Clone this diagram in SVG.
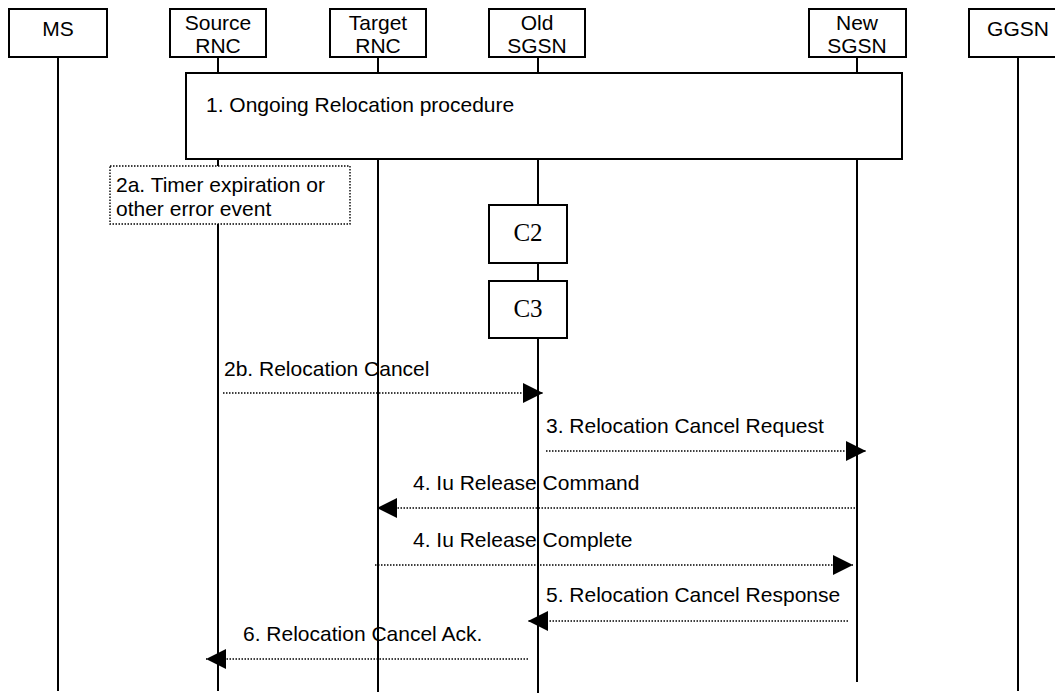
<svg xmlns="http://www.w3.org/2000/svg" width="1055" height="693" viewBox="0 0 1055 693">
<defs>
<style>
.box{fill:#fff;stroke:#000;stroke-width:2}
.life{stroke:#000;stroke-width:2;fill:none}
.t{font-family:"Liberation Sans",Arial,sans-serif;font-size:21px;fill:#000}
.h{font-family:"Liberation Sans",Arial,sans-serif;font-size:21px;fill:#000;text-anchor:middle}
.c{font-family:"Liberation Serif","Times New Roman",serif;font-size:25px;fill:#000;text-anchor:middle}
.msg{stroke:#000;stroke-width:1.4;stroke-dasharray:1.5 1.5;fill:none}
.note{fill:#fff;stroke:#000;stroke-width:1.4;stroke-dasharray:1.5 1.5}
</style>
<marker id="ah" viewBox="0 0 20 20" refX="20" refY="10" markerWidth="20" markerHeight="20" markerUnits="userSpaceOnUse" orient="auto">
<path d="M0,0 L20,10 L0,20 Z" fill="#000"/>
</marker>
</defs>
<rect width="1055" height="693" fill="#fff"/>
<g id="lifelines">
<line class="life" x1="58" y1="57" x2="58" y2="691"/>
<line class="life" x1="218" y1="57" x2="218" y2="691"/>
<line class="life" x1="378" y1="57" x2="378" y2="692"/>
<line class="life" x1="538" y1="57" x2="538" y2="693"/>
<line class="life" x1="857" y1="57" x2="857" y2="682"/>
<line class="life" x1="1018" y1="57" x2="1018" y2="691"/>
</g>
<g id="node-ms"><rect class="box" x="9" y="9" width="98" height="48"/><text class="h" x="58" y="36">MS</text></g>
<g id="node-source-rnc"><rect class="box" x="170" y="9" width="96" height="48"/><text class="h" x="218" y="30">Source</text><text class="h" x="218" y="53">RNC</text></g>
<g id="node-target-rnc"><rect class="box" x="330" y="9" width="96" height="48"/><text class="h" x="378" y="30">Target</text><text class="h" x="378" y="53">RNC</text></g>
<g id="node-old-sgsn"><rect class="box" x="489" y="9" width="96" height="48"/><text class="h" x="537" y="30">Old</text><text class="h" x="537" y="53">SGSN</text></g>
<g id="node-new-sgsn"><rect class="box" x="809" y="9" width="97" height="48"/><text class="h" x="857" y="30">New</text><text class="h" x="857" y="53">SGSN</text></g>
<g id="node-ggsn"><rect class="box" x="969" y="9" width="98" height="48"/><text class="h" x="1018" y="36">GGSN</text></g>
<g id="node-step1"><rect class="box" x="186" y="73" width="716" height="86"/><text class="t" x="206" y="112">1. Ongoing Relocation procedure</text></g>
<g id="node-step2a"><rect class="note" x="110" y="166" width="240" height="58"/><text class="t" x="116" y="192">2a. Timer expiration or</text><text class="t" x="116" y="216">other error event</text></g>
<g id="node-c2"><rect class="box" x="489" y="205" width="78" height="58"/><text class="c" x="528" y="241">C2</text></g>
<g id="node-c3"><rect class="box" x="489" y="281" width="78" height="57"/><text class="c" x="528" y="317">C3</text></g>
<g id="connectors">
<line class="msg" x1="223" y1="393" x2="543" y2="393" marker-end="url(#ah)"/>
<line class="msg" x1="546" y1="451" x2="866" y2="451" marker-end="url(#ah)"/>
<line class="msg" x1="855" y1="508" x2="377" y2="508" marker-end="url(#ah)"/>
<line class="msg" x1="375" y1="565" x2="853" y2="565" marker-end="url(#ah)"/>
<line class="msg" x1="848" y1="621" x2="528" y2="621" marker-end="url(#ah)"/>
<line class="msg" x1="528" y1="659" x2="206" y2="659" marker-end="url(#ah)"/>
</g>
<g id="labels">
<text class="t" x="224" y="376">2b. Relocation Cancel</text>
<text class="t" x="546" y="433">3. Relocation Cancel Request</text>
<text class="t" x="413" y="490">4. Iu Release Command</text>
<text class="t" x="413" y="547">4. Iu Release Complete</text>
<text class="t" x="546" y="602">5. Relocation Cancel Response</text>
<text class="t" x="243" y="641">6. Relocation Cancel Ack.</text>
</g>
</svg>
